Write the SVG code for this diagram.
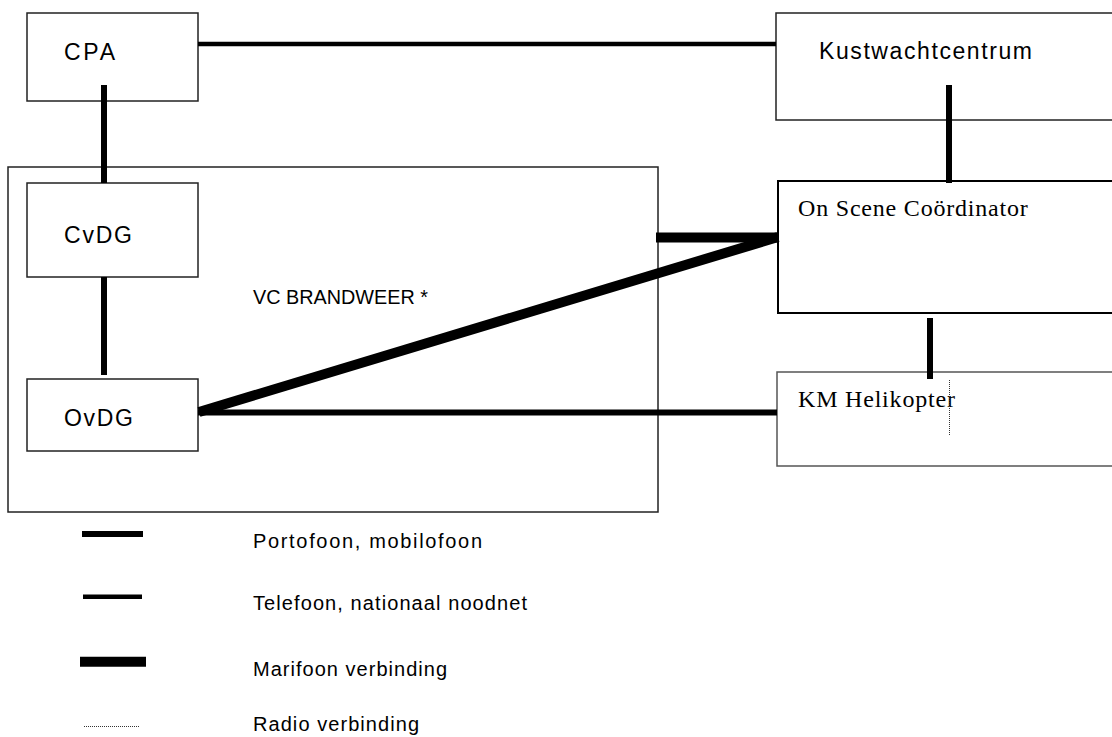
<svg xmlns="http://www.w3.org/2000/svg" width="1112" height="737" viewBox="0 0 1112 737">
  <style>
    .box { fill: #fff; stroke: #222; stroke-width: 1.5; }
    .box-osc { fill: #fff; stroke: #000; stroke-width: 2; }
    .box-km { fill: #fff; stroke: #555; stroke-width: 1.5; }
    .frame { fill: none; stroke: #222; stroke-width: 1.5; }
    .sans { font-family: "Liberation Sans", Arial, sans-serif; fill: #000; }
    .lbl { font-size: 23px; }
    .vc { font-size: 20px; }
    .leg { font-size: 20px; }
    .serif { font-family: "Liberation Serif", "Times New Roman", serif; font-size: 24px; letter-spacing: 0.8px; fill: #000; }
    .phone { stroke: #000; stroke-width: 4.5; fill: none; }
    .porto { stroke: #000; stroke-width: 6; fill: none; }
    .mari { stroke: #000; stroke-width: 10; fill: none; }
    .radio { stroke: #333; stroke-width: 1; stroke-dasharray: 1 1; fill: none; }
  </style>

  <!-- VC Brandweer frame -->
  <g id="vc-brandweer">
    <rect class="frame" x="8" y="167" width="650" height="345"/>
    <text class="sans vc" x="253" y="304" textLength="175" lengthAdjust="spacingAndGlyphs">VC BRANDWEER *</text>
  </g>

  <g id="cpa">
    <rect class="box" x="27" y="13" width="171" height="88"/>
    <text class="sans lbl" x="64" y="60" textLength="51" lengthAdjust="spacing">CPA</text>
  </g>

  <g id="kustwachtcentrum">
    <rect class="box" x="776" y="13" width="345" height="107"/>
    <text class="sans lbl" x="819" y="59" textLength="213" lengthAdjust="spacing">Kustwachtcentrum</text>
  </g>

  <g id="cvdg">
    <rect class="box" x="27" y="183" width="171" height="94"/>
    <text class="sans lbl" x="64" y="243" textLength="68" lengthAdjust="spacing">CvDG</text>
  </g>

  <g id="ovdg">
    <rect class="box" x="27" y="379" width="171" height="72"/>
    <text class="sans lbl" x="64" y="426" textLength="69" lengthAdjust="spacing">OvDG</text>
  </g>

  <g id="on-scene-coordinator">
    <rect class="box-osc" x="778" y="181" width="345" height="132"/>
    <text class="serif" x="798" y="216">On Scene Coördinator</text>
  </g>

  <g id="km-helikopter">
    <rect class="box-km" x="777" y="372" width="345" height="94"/>
    <text class="serif" x="798" y="407">KM Helikopter</text>
  </g>

  <!-- connections -->
  <g id="connectors">
    <line class="phone" x1="198" y1="44" x2="776" y2="44"/>
    <line class="porto" x1="104" y1="85" x2="104" y2="183"/>
    <line class="porto" x1="104" y1="277" x2="104" y2="375"/>
    <line class="porto" x1="949" y1="85" x2="949" y2="183"/>
    <line class="porto" x1="930" y1="318" x2="930" y2="379"/>
    <line class="porto" x1="198" y1="412.5" x2="777" y2="412.5"/>
    <line class="mari" x1="656" y1="237.5" x2="778" y2="237.5"/>
    <line class="mari" x1="199" y1="412" x2="778" y2="237"/>
    <line class="radio" x1="949.5" y1="380" x2="949.5" y2="436"/>
  </g>

  <!-- legend -->
  <g id="legend">
    <line class="porto" x1="82" y1="534" x2="143" y2="534"/>
    <text class="sans leg" x="253" y="548" textLength="229" lengthAdjust="spacing">Portofoon, mobilofoon</text>
    <line class="phone" x1="83" y1="596.7" x2="142" y2="596.7"/>
    <text class="sans leg" x="253" y="610" textLength="274" lengthAdjust="spacing">Telefoon, nationaal noodnet</text>
    <line class="mari" x1="80" y1="661.7" x2="146" y2="661.7"/>
    <text class="sans leg" x="253" y="676" textLength="194" lengthAdjust="spacing">Marifoon verbinding</text>
    <line class="radio" x1="84" y1="726.5" x2="140" y2="726.5"/>
    <text class="sans leg" x="253" y="731" textLength="166" lengthAdjust="spacing">Radio verbinding</text>
  </g>
</svg>
